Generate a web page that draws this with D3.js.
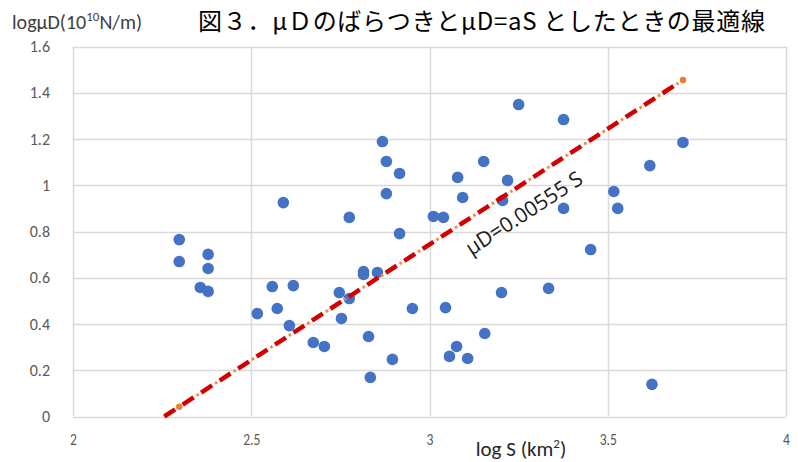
<!DOCTYPE html>
<html>
<head>
<meta charset="utf-8">
<script src="https://cdn.jsdelivr.net/npm/d3@7"></script>
<style>
    body { margin: 0; background: #fff; }
    svg { display: block; }
</style>
</head>
<body>
<script>
// scatter points (log S, log μD)
const logS = [2.298, 2.298, 2.379, 2.379, 2.357, 2.379, 2.517, 2.559, 2.573, 2.590, 2.618, 2.607,
    2.674, 2.705, 2.747, 2.753, 2.775, 2.775, 2.815, 2.815, 2.854, 2.829, 2.834, 2.868, 2.879,
    2.879, 2.916, 2.916, 2.896, 2.952, 3.011, 3.039, 3.045, 3.056, 3.076, 3.079, 3.093, 3.107,
    3.152, 3.155, 3.205, 3.202, 3.219, 3.250, 3.334, 3.376, 3.376, 3.452, 3.517, 3.528, 3.618,
    3.624, 3.711];
const logMuD = [0.765, 0.670, 0.701, 0.640, 0.558, 0.541, 0.445, 0.562, 0.467, 0.925, 0.566, 0.393,
    0.320, 0.303, 0.536, 0.424, 0.510, 0.861, 0.627, 0.614, 0.623, 0.346, 0.169, 1.189, 1.103,
    0.964, 1.051, 0.791, 0.247, 0.467, 0.865, 0.861, 0.471, 0.260, 0.303, 1.034, 0.947, 0.251,
    1.103, 0.359, 0.934, 0.536, 1.021, 1.349, 0.554, 1.284, 0.900, 0.722, 0.973, 0.900, 1.085,
    0.139, 1.185];

// fitted line  μD = 0.00555 S
const fitX = [2.256, 3.711];
const fitY = [0, 1.455];
const fitMarkX = [2.298, 3.711];
const fitMarkY = [0.042, 1.455];

const xTicks = [2, 2.5, 3, 3.5, 4];
const yTicks = [0, 0.2, 0.4, 0.6, 0.8, 1, 1.2, 1.4, 1.6];

const width = 798, height = 462;
const margin = { top: 46.5, right: 12, bottom: 45.5, left: 73 };

const svg = d3.select("body").append("svg")
    .attr("width", width)
    .attr("height", height);

const x = d3.scaleLinear().domain([2, 4]).range([margin.left, width - margin.right]);
const y = d3.scaleLinear().domain([0, 1.6]).range([height - margin.bottom, margin.top]);

// grid
svg.append("g").selectAll("line.h")
    .data(yTicks).join("line")
    .attr("x1", x(2)).attr("x2", x(4))
    .attr("y1", d => Math.round(y(d)) + 0.5).attr("y2", d => Math.round(y(d)) + 0.5)
    .attr("stroke", "#d9d9d9").attr("stroke-width", 1.5);
svg.append("g").selectAll("line.v")
    .data(xTicks).join("line")
    .attr("y1", y(0)).attr("y2", y(1.6))
    .attr("x1", d => Math.round(x(d)) + 0.5).attr("x2", d => Math.round(x(d)) + 0.5)
    .attr("stroke", "#d9d9d9").attr("stroke-width", 1.5);

// axes (labels only, Excel style)
const yAxis = svg.append("g")
    .attr("transform", "translate(" + (x(2) - 20) + ",0)")
    .call(d3.axisLeft(y).tickValues(yTicks).tickSize(0).tickFormat(d3.format("~g")));
yAxis.select(".domain").remove();
yAxis.selectAll("text")
    .attr("font-family", "Carlito, 'Liberation Sans', sans-serif")
    .attr("font-size", 16).attr("fill", "#595959");

const xAxis = svg.append("g")
    .attr("transform", "translate(0," + (y(0) + 14) + ")")
    .call(d3.axisBottom(x).tickValues(xTicks).tickSize(0).tickFormat(d3.format("~g")));
xAxis.select(".domain").remove();
xAxis.selectAll("text")
    .attr("font-family", "Carlito, 'Liberation Sans', sans-serif")
    .attr("font-size", 16).attr("fill", "#595959")
    .attr("transform", "scale(0.85,1)");

// points
svg.append("g").selectAll("circle")
    .data(logS).join("circle")
    .attr("cx", d => x(d))
    .attr("cy", (d, i) => y(logMuD[i]))
    .attr("r", 5.8)
    .attr("fill", "#4472c4");

// fitted line: red dashes with orange dots between
const fitData = fitX.map((d, i) => [d, fitY[i]]);
const line = d3.line().x(d => x(d[0])).y(d => y(d[1]));
svg.append("path")
    .datum(fitData)
    .attr("d", line)
    .attr("fill", "none")
    .attr("stroke", "#d40000")
    .attr("stroke-width", 4.5)
    .attr("stroke-dasharray", "13,9");
svg.append("path")
    .datum(fitData)
    .attr("d", line)
    .attr("fill", "none")
    .attr("stroke", "#f08a3c")
    .attr("stroke-width", 3)
    .attr("stroke-dasharray", "2.5,19.5")
    .attr("stroke-dashoffset", -16.5);
svg.append("g").selectAll("circle")
    .data(fitMarkX).join("circle")
    .attr("cx", d => x(d))
    .attr("cy", (d, i) => y(fitMarkY[i]))
    .attr("r", 3.2)
    .attr("fill", "#ed7d31");

// equation label along the line
const angle = Math.atan2(y(fitY[0]) - y(fitY[1]), x(fitX[1]) - x(fitX[0])) * 180 / Math.PI;
svg.append("text")
    .attr("transform", "translate(" + x(3.264) + "," + y(0.882) + ") rotate(" + (-angle) + ")")
    .attr("text-anchor", "middle")
    .attr("dominant-baseline", "central")
    .attr("font-family", "'Open Sans', 'Liberation Sans', sans-serif")
    .attr("font-size", 21)
    .attr("fill", "#1a1a1a")
    .text("μD=0.00555 S");

// y axis title
const yTitle = svg.append("text")
    .attr("x", 12).attr("y", 29)
    .attr("font-family", "Carlito, 'Liberation Sans', sans-serif")
    .attr("font-size", 20)
    .attr("fill", "#404040");
yTitle.append("tspan").text("logμD(10");
yTitle.append("tspan").attr("font-size", 13).attr("dy", -8).text("10");
yTitle.append("tspan").attr("dy", 8).text("N/m)");

// chart title
svg.append("text")
    .attr("x", 198).attr("y", 30)
    .attr("font-family", "'Noto Sans CJK JP', sans-serif")
    .attr("font-size", 24)
    .attr("fill", "#000")
    .attr("textLength", 567)
    .attr("lengthAdjust", "spacing")
    .text("図３．μＤのばらつきとμD=aS としたときの最適線");

// x axis title
const xTitle = svg.append("text")
    .attr("x", 521).attr("y", 456)
    .attr("text-anchor", "middle")
    .attr("font-family", "Carlito, 'Liberation Sans', sans-serif")
    .attr("font-size", 21)
    .attr("fill", "#262626");
xTitle.append("tspan").text("log S (km");
xTitle.append("tspan").attr("font-size", 13).attr("dy", -8).text("2");
xTitle.append("tspan").attr("dy", 8).text(")");
</script>
</body>
</html>
